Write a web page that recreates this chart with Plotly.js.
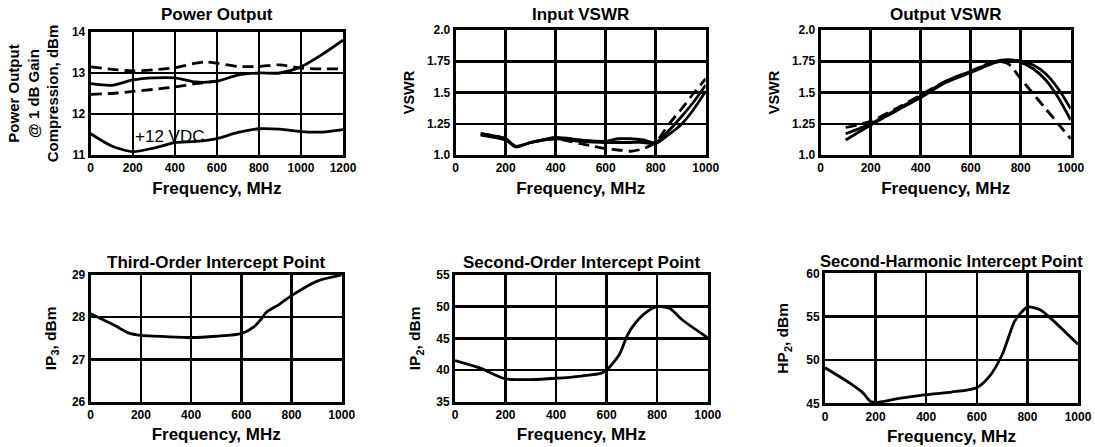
<!DOCTYPE html>
<html><head><meta charset="utf-8">
<script src="https://cdn.plot.ly/plotly-3.0.1.min.js"></script>
<style>html,body{margin:0;padding:0;background:#fff}#chart{width:1095px;height:447px}</style>
</head><body><div id="chart"></div>
<script>
// ---------- Data ----------
const freqTicks1000 = [0, 200, 400, 600, 800, 1000];
const freqTicks1200 = [0, 200, 400, 600, 800, 1000, 1200];

// Power Output (dBm)
const powUpperDashX = [0, 100, 200, 300, 400, 500, 550, 600, 700, 800, 900, 1000, 1100, 1200];
const powUpperDashY = [13.15, 13.09, 13.05, 13.08, 13.13, 13.24, 13.27, 13.24, 13.16, 13.16, 13.2, 13.12, 13.1, 13.1];
const powMidSolidX = [0, 100, 200, 300, 400, 500, 600, 700, 800, 900, 1000, 1100, 1200];
const powMidSolidY = [12.74, 12.7, 12.83, 12.88, 12.88, 12.78, 12.8, 12.95, 13.0, 13.0, 13.15, 13.45, 13.8];
const powLowDashX = [0, 100, 200, 300, 400, 500, 600];
const powLowDashY = [12.48, 12.5, 12.55, 12.6, 12.66, 12.74, 12.8];
const pow12VX = [0, 100, 200, 300, 400, 500, 600, 700, 800, 900, 1000, 1100, 1200];
const pow12VY = [11.52, 11.22, 11.08, 11.17, 11.3, 11.33, 11.4, 11.55, 11.64, 11.63, 11.57, 11.56, 11.62];
const powTicks = [11, 12, 13, 14];

// Input VSWR
const inDashX = [100, 200, 240, 300, 400, 500, 550, 600, 650, 700, 750, 800, 850, 900, 950, 1000];
const inDashY = [1.17, 1.13, 1.07, 1.1, 1.13, 1.09, 1.07, 1.05, 1.04, 1.03, 1.05, 1.1, 1.24, 1.36, 1.49, 1.61];
const inSolidX = [100, 200, 240, 300, 400, 500, 600, 650, 700, 750, 800, 850, 900, 950, 1000];
const inSolidAY = [1.17, 1.13, 1.07, 1.1, 1.14, 1.12, 1.11, 1.13, 1.13, 1.12, 1.1, 1.19, 1.3, 1.42, 1.56];
const inSolidBY = [1.16, 1.12, 1.065, 1.1, 1.13, 1.11, 1.1, 1.1, 1.1, 1.1, 1.09, 1.16, 1.24, 1.36, 1.51];

// Output VSWR
const outX = [100, 200, 300, 400, 500, 600, 700, 750, 800, 850, 900, 950, 1000];
const outDashY = [1.22, 1.27, 1.37, 1.48, 1.59, 1.67, 1.75, 1.73, 1.61, 1.49, 1.37, 1.25, 1.13];
const outSolidAY = [1.17, 1.25, 1.36, 1.47, 1.59, 1.67, 1.75, 1.76, 1.74, 1.69, 1.6, 1.46, 1.28];
const outSolidBY = [1.12, 1.24, 1.35, 1.46, 1.58, 1.66, 1.74, 1.76, 1.75, 1.72, 1.65, 1.53, 1.37];

const vswrTickVals = [1.0, 1.25, 1.5, 1.75, 2.0];
const vswrTickText = ['1.0', '1.25', '1.5', '1.75', '2.0'];

// Third-Order Intercept Point (IP3, dBm)
const ip3X = [0, 100, 150, 200, 300, 400, 500, 600, 650, 680, 700, 750, 800, 900, 1000];
const ip3Y = [28.08, 27.79, 27.63, 27.57, 27.54, 27.52, 27.55, 27.61, 27.77, 27.96, 28.12, 28.3, 28.51, 28.85, 29.0];
const ip3Ticks = [26, 27, 28, 29];

// Second-Order Intercept Point (IP2, dBm)
const ip2X = [0, 100, 200, 300, 400, 500, 580, 600, 650, 680, 700, 750, 800, 850, 900, 1000];
const ip2Y = [41.5, 40.3, 38.6, 38.5, 38.7, 39.05, 39.5, 40.0, 42.4, 45.3, 46.7, 48.9, 50.0, 49.7, 47.9, 45.1];
const ip2Ticks = [35, 40, 45, 50, 55];

// Second-Harmonic Intercept Point (HP2, dBm)
const hp2X = [0, 100, 150, 180, 200, 300, 400, 500, 600, 650, 700, 730, 750, 800, 850, 900, 1000];
const hp2Y = [49.1, 47.3, 46.2, 45.2, 45.1, 45.6, 46.0, 46.3, 46.8, 48.1, 50.6, 53.0, 54.5, 56.1, 55.8, 54.6, 51.8];
const hp2Ticks = [45, 50, 55, 60];

// ---------- Styling helpers ----------
const FONT = 'Liberation Sans, Arial, Helvetica, sans-serif';
const W = 1095, H = 447;
const px2x = p => p / W;
const px2y = p => 1 - p / H;

function line(x, y, xa, ya, dashed) {
  return {
    x: x, y: y, xaxis: xa, yaxis: ya, type: 'scatter', mode: 'lines',
    line: {color: '#000', width: 2.8, shape: 'spline', smoothing: 0.7, dash: dashed ? '11px,6px' : 'solid'},
    hoverinfo: 'skip', showlegend: false
  };
}

function xAxis(d, range, tickvals, anchor) {
  return {
    domain: [px2x(d[0]), px2x(d[1])], range: range, anchor: anchor,
    tickmode: 'array', tickvals: tickvals, ticktext: tickvals.map(String),
    showgrid: true, gridcolor: '#000', gridwidth: 2.5,
    showline: true, linecolor: '#000', linewidth: 3, mirror: true,
    zeroline: false, ticks: '', fixedrange: true,
    tickfont: {family: FONT, size: 12, color: '#000', weight: 700},
    title: {text: 'Frequency, MHz', font: {family: FONT, size: 17, color: '#000', weight: 700}, standoff: 8}
  };
}

function yAxis(d, range, tickvals, ticktext, anchor, title, tsize, standoff) {
  return {
    domain: [px2y(d[1]), px2y(d[0])], range: range, anchor: anchor,
    tickmode: 'array', tickvals: tickvals, ticktext: ticktext,
    showgrid: true, gridcolor: '#000', gridwidth: 2.5,
    showline: true, linecolor: '#000', linewidth: 3, mirror: true,
    zeroline: false, ticks: '', fixedrange: true,
    tickfont: {family: FONT, size: 12, color: '#000', weight: 700},
    title: {text: title, font: {family: FONT, size: tsize, color: '#000', weight: 700}, standoff: standoff}
  };
}

// pixel boxes [left,right] and [top,bottom]
const box = [
  {x: [90.7, 343], y: [32, 155]},
  {x: [455.7, 705.7], y: [30, 155]},
  {x: [820.7, 1070.7], y: [30, 155]},
  {x: [90.7, 341.7], y: [275, 401.7]},
  {x: [455, 707.7], y: [275, 401.7]},
  {x: [825, 1078], y: [273.3, 403.3]}
];

const traces = [
  line(powUpperDashX, powUpperDashY, 'x', 'y', true),
  line(powMidSolidX, powMidSolidY, 'x', 'y', false),
  line(powLowDashX, powLowDashY, 'x', 'y', true),
  line(pow12VX, pow12VY, 'x', 'y', false),
  line(inDashX, inDashY, 'x2', 'y2', true),
  line(inSolidX, inSolidAY, 'x2', 'y2', false),
  line(inSolidX, inSolidBY, 'x2', 'y2', false),
  line(outX, outDashY, 'x3', 'y3', true),
  line(outX, outSolidAY, 'x3', 'y3', false),
  line(outX, outSolidBY, 'x3', 'y3', false),
  line(ip3X, ip3Y, 'x4', 'y4', false),
  line(ip2X, ip2Y, 'x5', 'y5', false),
  line(hp2X, hp2Y, 'x6', 'y6', false)
];

const titles = ['Power Output', 'Input VSWR', 'Output VSWR',
  'Third-Order Intercept Point', 'Second-Order Intercept Point', 'Second-Harmonic Intercept Point'];
const titleY = [15, 15, 15, 262, 262, 261];

const annotations = titles.map((t, i) => ({
  text: t, xref: 'paper', yref: 'paper',
  x: px2x((box[i].x[0] + box[i].x[1]) / 2), y: px2y(titleY[i]),
  xanchor: 'center', yanchor: 'middle', showarrow: false,
  font: {family: FONT, size: i === 5 ? 16.6 : 17, color: '#000', weight: 700}
}));
annotations.push({
  text: '+12 VDC', xref: 'x', yref: 'y', x: 375, y: 11.44,
  xanchor: 'center', yanchor: 'middle', showarrow: false,
  font: {family: FONT, size: 17, color: '#000'}
});

const layout = {
  width: W, height: H, margin: {l: 0, r: 0, t: 0, b: 0},
  paper_bgcolor: '#fff', plot_bgcolor: '#fff', showlegend: false,
  font: {family: FONT, color: '#000'},
  xaxis: xAxis(box[0].x, [0, 1200], freqTicks1200, 'y'),
  yaxis: yAxis(box[0].y, [11, 14], powTicks, powTicks.map(String), 'x',
    'Power Output<br>@ 1 dB Gain<br>Compression, dBm', 15, 10),
  xaxis2: xAxis(box[1].x, [0, 1000], freqTicks1000, 'y2'),
  yaxis2: yAxis(box[1].y, [1, 2], vswrTickVals, vswrTickText, 'x2', 'VSWR', 14.5, 9),
  xaxis3: xAxis(box[2].x, [0, 1000], freqTicks1000, 'y3'),
  yaxis3: yAxis(box[2].y, [1, 2], vswrTickVals, vswrTickText, 'x3', 'VSWR', 14.5, 9),
  xaxis4: xAxis(box[3].x, [0, 1000], freqTicks1000, 'y4'),
  yaxis4: yAxis(box[3].y, [26, 29], ip3Ticks, ip3Ticks.map(String), 'x4', 'IP<sub>3</sub>, dBm', 15.5, 12),
  xaxis5: xAxis(box[4].x, [0, 1000], freqTicks1000, 'y5'),
  yaxis5: yAxis(box[4].y, [35, 55], ip2Ticks, ip2Ticks.map(String), 'x5', 'IP<sub>2</sub>, dBm', 15.5, 12),
  xaxis6: xAxis(box[5].x, [0, 1000], freqTicks1000, 'y6'),
  yaxis6: yAxis(box[5].y, [45, 60], hp2Ticks, hp2Ticks.map(String), 'x6', 'HP<sub>2</sub>, dBm', 15.5, 14),
  annotations: annotations
};

Plotly.newPlot('chart', traces, layout, {displayModeBar: false, staticPlot: true});
</script></body></html>
